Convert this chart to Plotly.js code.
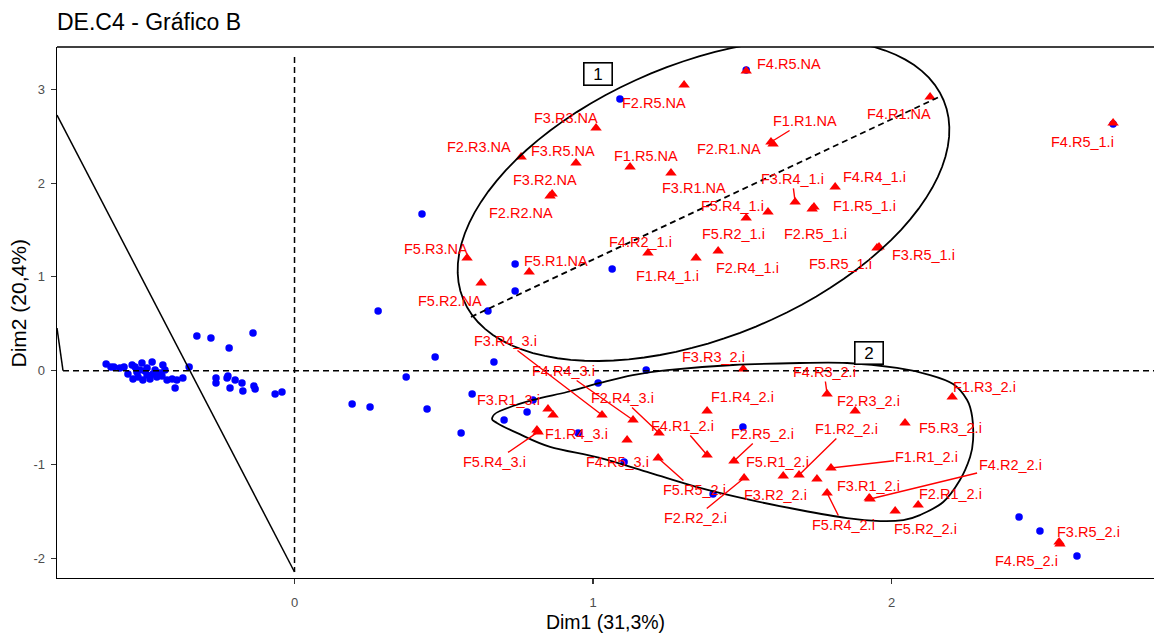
<!DOCTYPE html>
<html><head><meta charset="utf-8">
<script src="https://cdn.plot.ly/plotly-3.0.1.min.js"></script>
<style>html,body{margin:0;padding:0;background:#fff}#chart{width:1154px;height:635px}</style>
</head><body><div id="chart"></div>
<script>
// Individuals (blue points)
const indX = [1.090,1.513,2.742,0.427,0.739,1.064,0.739,0.648,0.280,0.471,0.668,0.374,0.595,1.017,1.178,0.799,0.779,0.702,0.558,0.950,1.502,1.104,1.402,0.444,0.193,0.253,
  -0.327,-0.280,-0.219,-0.139,-0.353,-0.263,-0.263,-0.226,-0.223,-0.216,-0.199,-0.176,-0.173,-0.136,-0.132,-0.065,-0.042,-0.400,
  -0.631,-0.615,-0.605,-0.571,-0.544,-0.511,-0.477,-0.441,-0.518,-0.494,-0.467,-0.434,-0.541,-0.524,-0.508,-0.494,-0.484,-0.474,-0.461,-0.451,-0.427,-0.410,-0.394,-0.374,-0.528,-0.501,-0.444,-0.585,-0.558,-0.534,
  2.427,2.497,2.621];
const indY = [2.897,3.206,2.630,1.671,1.138,1.084,0.850,0.636,0.636,0.146,0.093,-0.067,-0.248,-0.131,0.007,-0.312,-0.440,-0.526,-0.664,-0.664,-0.600,-0.973,-1.315,-0.408,-0.355,-0.387,
  0.370,0.349,0.242,0.402,0.039,-0.078,-0.131,-0.078,-0.057,-0.184,-0.099,-0.131,-0.216,-0.163,-0.195,-0.248,-0.227,-0.184,
  0.071,0.039,0.039,0.039,0.061,0.082,0.093,0.061,0.007,0.029,0.007,0.007,-0.088,-0.067,-0.099,-0.046,-0.088,-0.035,-0.067,-0.025,-0.099,-0.088,-0.099,-0.078,-0.014,-0.003,-0.057,0.029,-0.035,0.039,
  -1.560,-1.709,-1.976];

// Variable categories (red triangles)
const varNames = ["F4.R5.NA","F2.R5.NA","F4.R1.NA","F1.R1.NA","F2.R1.NA","F3.R3.NA","F2.R3.NA","F3.R5.NA","F1.R5.NA","F3.R1.NA","F3.R2.NA","F2.R2.NA","F5.R3.NA","F5.R1.NA","F5.R2.NA",
  "F3.R4_1.i","F4.R4_1.i","F1.R5_1.i","F5.R4_1.i","F5.R2_1.i","F2.R5_1.i","F4.R2_1.i","F1.R4_1.i","F2.R4_1.i","F5.R5_1.i","F3.R5_1.i","F4.R5_1.i",
  "F3.R4_3.i","F4.R4_3.i","F2.R4_3.i","F3.R1_3.i","","F1.R4_3.i","F5.R4_3.i","F4.R5_3.i",
  "F5.R5_2.i","F1.R4_2.i","F4.R1_2.i","F2.R5_2.i","F3.R3_2.i","F5.R1_2.i","F1.R2_2.i","F3.R2_2.i","F2.R2_2.i","F5.R4_2.i","F1.R1_2.i","F3.R1_2.i","F4.R2_2.i","F2.R1_2.i","F5.R2_2.i",
  "F4.R3_2.i","F2.R3_2.i","F1.R3_2.i","F5.R3_2.i","F3.R5_2.i","F4.R5_2.i"];
const varX = [1.513,1.305,2.129,1.596,1.603,1.010,0.759,0.943,1.124,1.261,0.863,0.856,0.578,0.786,0.625,
  1.677,1.811,1.740,1.586,1.513,1.734,1.184,1.345,1.419,1.951,1.958,2.742,
  1.030,1.134,1.221,0.849,0.866,0.812,0.816,1.114,
  1.218,1.382,1.382,1.472,1.503,1.637,1.690,1.750,1.506,1.784,1.797,1.925,1.928,2.089,2.012,
  1.784,1.878,2.203,2.045,2.561,2.564];
const varY = [3.195,3.046,2.918,2.438,2.417,2.587,2.278,2.214,2.172,2.108,1.884,1.862,1.202,1.052,0.935,
  1.799,1.958,1.745,1.692,1.628,1.724,1.255,1.202,1.276,1.308,1.319,2.641,
  -0.472,-0.526,-0.664,-0.408,-0.472,-0.632,-0.653,-0.739,
  -0.931,-0.430,-0.899,-0.963,0.018,-1.123,-1.112,-1.155,-1.144,-1.304,-1.037,-1.357,-1.368,-1.432,-1.496,
  -0.248,-0.430,-0.280,-0.558,-1.826,-1.847];

// Label placement (pixel offsets from the point) and whether a leader segment is drawn
const labelDX = [43,-30,-31,34,-44,-30,-42,-13,16,23,-7,-29,-31,27,-31,
  -3,39,51,-35,-13,3,-7,-29,29,-36,44,-31,
  -97,-70,-37,-39,0,40,-44,-10,
  36,35,-25,29,-30,-6,47,-41,-49,16,96,-1,140,32,30,
  -3,13,32,45,29,-33];
const labelDY = [-7,18,17,-21,5,-10,-10,-12,-11,15,-14,17,-9,-11,18,
  -23,-10,-1,-6,16,25,-11,18,17,16,8,19,
  -74,-49,-35,-9,0,4,30,22,
  32,-14,-29,-27,-12,-14,-46,16,40,32,-11,-12,-34,-11,18,
  -22,-10,-10,5,-10,17];
const labelSeg = [0,0,0,1,0,0,0,0,0,0,0,0,0,0,0,
  1,0,0,0,0,0,0,0,0,0,0,0,
  1,1,1,0,0,0,1,0,
  1,0,1,1,0,0,1,0,1,1,1,0,1,0,0,
  1,0,0,0,0,0];

const clusterTags = ["1","2"];
const clusterTagX = [1.017,1.925];
const clusterTagY = [3.158,0.189];

// Axis set-up
const X0=-0.7956, X1=2.879, Y0=-2.21, Y1=3.451;
const W=1154, H=635, ML=57, MR=0, MT=47, MB=57;
const pxX=(W-ML-MR)/(X1-X0), pxY=(H-MT-MB)/(Y1-Y0);

function ellipsePath(cx,cy,aPx,bPx,phiDeg){
  const ph=phiDeg*Math.PI/180; let s='';
  for(let i=0;i<=96;i++){
    const t=2*Math.PI*i/96;
    const u=aPx*Math.cos(t), v=bPx*Math.sin(t);
    const px=u*Math.cos(ph)-v*Math.sin(ph), py=u*Math.sin(ph)+v*Math.cos(ph);
    s+=(i?' L':'M')+(cx+px/pxX).toFixed(4)+','+(cy+py/pxY).toFixed(4);
  }
  return s+' Z';
}
function closedSpline(px,py){
  const n=px.length; let s='M'+px[0]+','+py[0];
  for(let i=0;i<n;i++){
    const i0=(i-1+n)%n,i2=(i+1)%n,i3=(i+2)%n;
    const c1x=px[i]+(px[i2]-px[i0])/6, c1y=py[i]+(py[i2]-py[i0])/6;
    const c2x=px[i2]-(px[i3]-px[i])/6, c2y=py[i2]-(py[i3]-py[i])/6;
    s+=' C'+c1x.toFixed(4)+','+c1y.toFixed(4)+' '+c2x.toFixed(4)+','+c2y.toFixed(4)+' '+px[i2]+','+py[i2];
  }
  return s+' Z';
}
// outline of group 2
const hull2X=[0.662,0.688,0.799,0.913,1.023,1.133,1.248,1.469,1.693,1.851,2.018,2.129,2.206,2.253,2.270,2.273,2.263,2.229,2.173,2.095,2.039,1.962,1.851,1.693,1.526,1.358,1.191,1.023,0.856,0.745,0.678];
const hull2Y=[-0.504,-0.430,-0.312,-0.227,-0.131,-0.046,0.007,0.061,0.082,0.082,0.029,-0.046,-0.142,-0.312,-0.493,-0.738,-0.920,-1.165,-1.400,-1.539,-1.592,-1.603,-1.571,-1.485,-1.378,-1.250,-1.090,-0.930,-0.812,-0.663,-0.557];

const FONT='"Liberation Sans", Arial, Helvetica, sans-serif';
const RED='#FF0000', BLUE='#0000FF';

const traces=[
  {type:'scatter',mode:'markers',x:indX,y:indY,marker:{color:BLUE,size:7.5,symbol:'circle'},hoverinfo:'skip',showlegend:false,cliponaxis:false},
  {type:'scatter',mode:'markers',x:varX,y:varY,marker:{color:RED,size:10,symbol:'triangle-up'},hoverinfo:'skip',showlegend:false,cliponaxis:false}
];

const annotations=[];
for(let i=0;i<varNames.length;i++){
  if(!varNames[i]) continue;
  const a={x:varX[i],y:varY[i],xref:'x',yref:'y',text:varNames[i],font:{family:FONT,size:14.5,color:RED}};
  if(labelSeg[i]){
    Object.assign(a,{showarrow:true,ax:labelDX[i],ay:labelDY[i],axref:'pixel',ayref:'pixel',arrowhead:0,arrowwidth:1.4,arrowcolor:RED,standoff:0,startstandoff:0});
  } else {
    Object.assign(a,{showarrow:false,xshift:labelDX[i],yshift:-labelDY[i]});
  }
  annotations.push(a);
}
for(let k=0;k<clusterTags.length;k++){
  annotations.push({x:clusterTagX[k],y:clusterTagY[k],xref:'x',yref:'y',text:clusterTags[k],showarrow:false,
    font:{family:FONT,size:17,color:'#000'},bordercolor:'#000',borderwidth:1.6,borderpad:2,width:23,height:17,bgcolor:'#fff'});
}
// y axis title (placed to match the reference position)
annotations.push({xref:'paper',yref:'paper',x:(17.5-ML)/(W-ML-MR),y:(H-MB-304)/(H-MT-MB),text:'Dim2 (20,4%)',textangle:-90,
  showarrow:false,font:{family:FONT,size:21,color:'#000'},xanchor:'center',yanchor:'middle'});

const dashS='6px,4px';
const shapes=[
  {type:'line',xref:'paper',yref:'paper',x0:0,x1:1,y0:1,y1:1,line:{color:'#000',width:1.6}},
  {type:'line',xref:'x',yref:'y',x0:-0.7755,x1:X1,y0:0,y1:0,line:{color:'#000',width:1.5,dash:dashS}},
  {type:'line',xref:'x',yref:'y',x0:0,x1:0,y0:3.344,y1:-2.146,line:{color:'#000',width:1.5,dash:dashS}},
  {type:'line',xref:'x',yref:'y',x0:X0,x1:0,y0:2.726,y1:-2.146,line:{color:'#000',width:1.5}},
  {type:'line',xref:'x',yref:'y',x0:X0,x1:-0.7755,y0:0.455,y1:0,line:{color:'#000',width:1.5}},
  {type:'line',xref:'x',yref:'y',x0:0.591,x1:2.166,y0:0.573,y1:2.929,line:{color:'#000',width:1.8,dash:dashS}},
  {type:'path',xref:'x',yref:'y',path:ellipsePath(1.370,1.820,260,137,22.5),line:{color:'#000',width:1.8}},
  {type:'path',xref:'x',yref:'y',path:closedSpline(hull2X,hull2Y),line:{color:'#000',width:1.8}}
];

const layout={
  width:W,height:H,margin:{l:ML,r:MR,t:MT,b:MB,pad:0},
  paper_bgcolor:'#fff',plot_bgcolor:'#fff',
  font:{family:FONT,color:'#000'},
  title:{text:'DE.C4 - Gráfico B',font:{family:FONT,size:23,color:'#000'},x:0,xref:'paper',xanchor:'left',y:1-22/H,yref:'container',yanchor:'middle'},
  xaxis:{range:[X0,X1],showgrid:false,zeroline:false,showline:true,linecolor:'#000',linewidth:1.4,
    ticks:'outside',ticklen:5,tickcolor:'#333',tickwidth:1.1,tickvals:[0,1,2],ticktext:['0','1','2'],
    tickfont:{family:FONT,size:13,color:'#4d4d4d'},ticklabelstandoff:7,
    title:{text:'Dim1 (31,3%)',font:{family:FONT,size:19.5,color:'#000'},standoff:6}},
  yaxis:{range:[Y0,Y1],showgrid:false,zeroline:false,showline:true,linecolor:'#000',linewidth:1.4,
    ticks:'outside',ticklen:5,tickcolor:'#333',tickwidth:1.1,tickvals:[-2,-1,0,1,2,3],ticktext:['-2','-1','0','1','2','3'],
    tickfont:{family:FONT,size:13,color:'#4d4d4d'},ticklabelstandoff:3},
  shapes:shapes,annotations:annotations,showlegend:false
};
Plotly.newPlot('chart',traces,layout,{displayModeBar:false,staticPlot:true});
</script></body></html>
